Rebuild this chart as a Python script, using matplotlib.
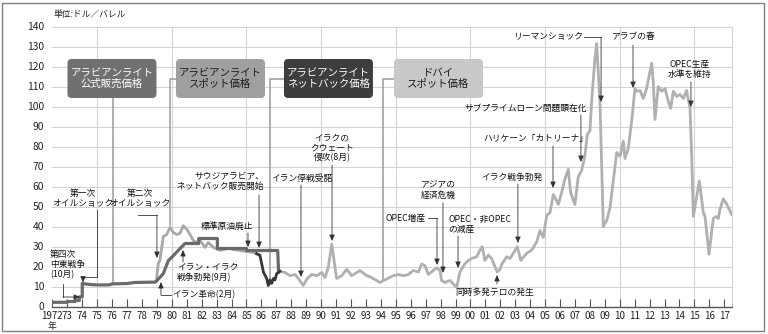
import matplotlib
matplotlib.use("Agg")
import matplotlib.pyplot as plt
from matplotlib.patches import FancyBboxPatch, Rectangle
from matplotlib.transforms import blended_transform_factory

plt.rcParams['font.family'] = ['Noto Sans CJK JP', 'DejaVu Sans']
NUM_FONT = ['Liberation Sans Narrow', 'Noto Sans CJK JP']

# --- data (ドル/バレル) ---
official_year = [1972.0, 1973.0, 1973.0, 1973.5, 1973.5, 1973.8, 1973.8, 1974.0, 1974.0, 1974.5,
                 1975.0, 1975.8, 1976.0, 1977.0, 1977.5, 1978.9, 1979.0, 1979.2, 1979.43, 1979.77,
                 1980.1, 1980.55, 1980.88, 1981.8, 1981.8, 1983.05, 1983.05, 1985.0, 1985.0,
                 1987.09, 1987.15]
official_price = [2.1, 2.1, 2.5, 2.5, 3.0, 3.0, 4.8, 4.8, 11.5, 11.0,
                  10.8, 10.8, 11.3, 11.5, 12.0, 12.2, 13.0, 14.5, 16.5, 23.0,
                  25.4, 29.0, 31.5, 31.5, 34.0, 34.0, 29.0, 29.0, 28.0,
                  28.0, 17.2]

spot_year = [1978.98, 1979.09, 1979.2, 1979.32, 1979.43, 1979.65, 1979.88, 1980.1, 1980.33,
             1980.55, 1980.77, 1980.99, 1981.22, 1981.44, 1981.66, 1981.89, 1982.22, 1982.44,
             1982.78, 1983.23, 1983.6, 1983.9, 1984.2, 1984.57, 1985.0, 1985.46, 1985.79]
spot_price = [14.0, 21.4, 23.0, 29.5, 35.0, 36.0, 39.5, 37.0, 36.0,
              36.6, 40.4, 38.7, 36.0, 33.0, 32.0, 33.0, 29.6, 32.0,
              29.6, 28.0, 28.8, 29.0, 28.3, 28.0, 27.5, 27.0, 26.0]

netback_year = [1985.68, 1985.9, 1986.02, 1986.13, 1986.35, 1986.46, 1986.57, 1986.69,
                1986.8, 1986.91, 1987.02, 1987.24]
netback_price = [26.4, 25.6, 21.4, 17.3, 14.0, 10.5, 13.3, 11.6,
                 14.0, 13.3, 16.4, 17.6]

dubai_year = [1987.24, 1987.58, 1987.91, 1988.25, 1988.58, 1988.8, 1989.07, 1989.37, 1989.7,
              1990.04, 1990.26, 1990.48, 1990.71, 1990.93, 1991.04, 1991.38, 1991.71, 1992.05,
              1992.6, 1993.05, 1993.3, 1993.94, 1994.61, 1994.83, 1995.17, 1995.5, 1995.84,
              1996.17, 1996.51, 1996.73, 1996.96, 1997.18, 1997.51, 1997.74, 1997.96, 1998.07,
              1998.3, 1998.63, 1998.85, 1999.08, 1999.3, 1999.63, 1999.86, 2000.08, 2000.42,
              2000.64, 2000.79, 2000.97, 2001.2, 2001.42, 2001.64, 2001.8, 2001.98, 2002.09,
              2002.43, 2002.65, 2002.87, 2003.14, 2003.37, 2003.77, 2004.1, 2004.44, 2004.66,
              2004.8, 2004.88, 2005.11, 2005.33, 2005.55, 2005.73, 2005.89, 2006.11, 2006.33,
              2006.55, 2006.71, 2007.0, 2007.22, 2007.45, 2007.67, 2007.83, 2008.01, 2008.12,
              2008.34, 2008.46, 2008.68, 2008.9, 2009.13, 2009.35, 2009.57, 2009.68, 2009.8,
              2010.02, 2010.24, 2010.35, 2010.57, 2010.8, 2011.02, 2011.13, 2011.36, 2011.58,
              2011.8, 2012.14, 2012.25, 2012.36, 2012.58, 2012.81, 2013.03, 2013.25, 2013.41,
              2013.59, 2013.81, 2014.04, 2014.26, 2014.48, 2014.71, 2014.82, 2014.93, 2015.33,
              2015.6, 2015.71, 2015.98, 2016.27, 2016.45, 2016.6, 2016.72, 2016.94, 2017.16,
              2017.5]
dubai_price = [17.6, 17.0, 15.4, 16.0, 13.0, 10.5, 14.0, 16.0, 15.4,
               17.0, 14.5, 19.6, 31.2, 19.6, 14.0, 15.4, 18.6, 15.4,
               18.0, 15.4, 14.8, 12.0, 14.6, 15.4, 16.0, 15.4, 16.0,
               18.0, 17.3, 21.3, 20.4, 16.0, 18.0, 19.4, 18.0, 13.0,
               12.0, 13.0, 11.3, 9.6, 17.3, 21.4, 23.0, 24.0, 24.9,
               28.2, 29.9, 23.0, 25.7, 24.0, 19.9, 17.3, 18.5, 21.0,
               24.9, 24.0, 26.6, 29.9, 23.0, 26.6, 28.2, 32.4, 38.0,
               35.5, 34.5, 45.5, 47.0, 56.0, 53.5, 51.0, 57.0, 63.8,
               68.6, 57.0, 51.0, 64.8, 68.0, 75.5, 86.0, 88.0, 103.0,
               124.0, 131.5, 101.0, 40.0, 43.0, 49.5, 63.0, 69.7, 77.0,
               75.0, 82.7, 74.0, 79.0, 92.7, 109.0, 107.6, 108.0, 104.0,
               109.0, 121.7, 112.0, 93.5, 110.0, 107.6, 109.0, 102.6, 99.0,
               107.6, 105.0, 106.0, 104.0, 108.0, 99.0, 75.0, 45.0, 62.8,
               47.0, 45.0, 26.2, 44.0, 45.0, 44.0, 48.7, 53.8, 51.3,
               46.0]

year_ticks = list(range(1972, 2018))
year_labels = ['1972', '73', '74', '75', '76', '77', '78', '79', '80', '81', '82', '83',
               '84', '85', '86', '87', '88', '89', '90', '91', '92', '93', '94', '95', '96',
               '97', '98', '99', '00', '01', '02', '03', '04', '05', '06', '07', '08', '09',
               '10', '11', '12', '13', '14', '15', '16', '17']
price_ticks = [0, 10, 20, 30, 40, 50, 60, 70, 80, 90, 100, 110, 120, 130, 140]

# 凡例ボックス: (テキスト, 中心年, 塗り, 文字色)
boxes = [("アラビアンライト\n公式販売価格", 1975.99, '#707070', 'white'),
         ("アラビアンライト\nスポット価格", 1983.26, '#a0a0a0', '#1a1a1a'),
         ("アラビアンライト\nネットバック価格", 1990.49, '#3d3d3d', 'white'),
         ("ドバイ\nスポット価格", 1997.86, '#c8c8c8', '#1a1a1a')]

fig = plt.figure(figsize=(7.68, 3.34), dpi=100)
ax = fig.add_axes([52.4 / 768, 27.5 / 334, 679.9 / 768, 280 / 334])
ax.set_xlim(1972, 2017.54)
ax.set_ylim(0, 140)

# grid
for v in price_ticks[1:]:
    ax.axhline(v, color='#d4d4d4', lw=0.8, zorder=0)
for yr in range(1975, 2017, 5):
    ax.axvline(yr, color='#d4d4d4', lw=0.8, zorder=0)

ax.plot(dubai_year, dubai_price, color='#b0b0b0', lw=2.0, zorder=3, solid_joinstyle='round')
ax.plot(spot_year, spot_price, color='#a8a8a8', lw=2.0, zorder=3, solid_joinstyle='round')
ax.plot(official_year, official_price, color='#6a6a6a', lw=2.3, zorder=4)
ax.plot(netback_year, netback_price, color='#363636', lw=2.0, zorder=5, solid_joinstyle='round')

for s in ['top', 'left']:
    ax.spines[s].set_visible(False)
ax.spines['right'].set_color('#d4d4d4')
ax.spines['right'].set_linewidth(0.8)
ax.spines['bottom'].set_color('#555555')
ax.spines['bottom'].set_linewidth(1.0)

ax.set_xticks(year_ticks)
ax.set_xticklabels(year_labels, fontsize=7.0, color='#222222', family=NUM_FONT)
ax.tick_params(axis='x', direction='in', length=6, width=0.8, color='#555555', pad=3.5)
ax.set_yticks(price_ticks)
ax.set_yticklabels([str(v) for v in price_ticks], fontsize=7.4, color='#222222', family=NUM_FONT)
ax.tick_params(axis='y', length=0, pad=6)

trans = blended_transform_factory(ax.transData, ax.transAxes)
ax.text(1972, -0.07, "年", transform=trans, ha='center', va='center', fontsize=6.3, color='#222222')
fig.text(53 / 768, 1 - 15 / 334, "単位:ドル／バレル", fontsize=6.3, color='#222222', va='center')

# boxes
for label, cx, fc, tc in boxes:
    box = FancyBboxPatch((cx - 2.98, 104.25), 5.96, 19.5,
                         boxstyle="round,pad=0,rounding_size=0.28",
                         mutation_aspect=7.47, fc=fc, ec='none', zorder=6)
    ax.add_patch(box)
    ax.text(cx, 114.0, label, ha='center', va='center', fontsize=7.5, color=tc,
            linespacing=1.15, zorder=7)

# box leaders
box_leaders = [[(1976.06, 104.25), (1976.06, 12.25)],
               [(1980.28, 113.75), (1979.88, 113.75), (1979.88, 40.75)],
               [(1987.51, 113.75), (1986.58, 113.75), (1986.58, 10.75)],
               [(1994.88, 113.75), (1994.14, 113.75), (1994.14, 13.5)]]
for pts in box_leaders:
    ax.plot([p[0] for p in pts], [p[1] for p in pts], color='#9a9a9a', lw=1.1, zorder=2)


def leader(pts):
    # 折れ線 + 最後の区間に矢印
    if len(pts) > 2:
        ax.plot([p[0] for p in pts[:-1]], [p[1] for p in pts[:-1]], color='#333333',
                lw=0.6, zorder=6, clip_on=False)
    ax.annotate("", xy=pts[-1], xytext=pts[-2],
                arrowprops=dict(arrowstyle='-|>,head_length=0.45,head_width=0.2',
                                color='#333333', lw=0.6, shrinkA=0, shrinkB=0,
                                mutation_scale=8), zorder=6)


def note(x, y, s, ha='center'):
    ax.text(x, y, s, ha=ha, va='center', fontsize=6.3, color='#111111',
            linespacing=1.15, zorder=7)


note(1971.84, 20.75, "第四次\n中東戦争\n(10月)", ha='left')
leader([(1972.71, 11.25), (1972.71, 4.75), (1973.85, 4.75)])

note(1974.05, 54.0, "第一次\nオイルショック")
leader([(1974.99, 48.25), (1974.99, 14.75), (1974.05, 14.75), (1974.05, 12.0)])

note(1977.87, 54.0, "第二次\nオイルショック")
leader([(1977.73, 45.75), (1979.0, 45.75), (1979.0, 24.25)])

note(1983.69, 40.25, "標準原油廃止")
leader([(1985.1, 36.75), (1985.1, 29.75)])

note(1986.17, 62.5, "サウジアラビア、\nネットバック販売開始", ha='right')
leader([(1985.84, 55.75), (1985.84, 29.25)])

note(1980.35, 17.0, "イラン・イラク\n戦争勃発(9月)", ha='left')
leader([(1980.75, 22.25), (1980.75, 28.25)])

note(1980.01, 5.75, "イラン革命(2月)", ha='left')
leader([(1979.95, 5.75), (1979.27, 5.75), (1979.27, 12.25)])

note(1988.68, 64.25, "イラン停戦受諾")
leader([(1988.65, 60.75), (1988.65, 14.75)])

note(1990.73, 79.25, "イラクの\nクウェート\n侵攻(8月)")
leader([(1990.73, 70.75), (1990.73, 32.75)])

note(1997.02, 44.25, "OPEC増産", ha='right')
leader([(1997.15, 44.25), (1997.76, 44.25), (1997.76, 20.75)])

note(1997.83, 58.25, "アジアの\n経済危機")
leader([(1998.16, 51.75), (1998.16, 16.75)])

note(1998.5, 41.25, "OPEC・非OPEC\nの減産", ha='left')
leader([(1999.17, 35.25), (1999.17, 19.25)])

note(1998.97, 7.25, "同時多発テロの発生", ha='left')
leader([(2001.78, 11.25), (2001.78, 15.75)])

note(2002.78, 64.75, "イラク戦争勃発")
leader([(2003.18, 61.25), (2003.18, 31.75)])

note(2004.39, 83.75, "ハリケーン「カトリーナ」")
leader([(2005.53, 80.25), (2005.53, 59.25)])

note(2003.69, 99.25, "サブプライムローン問題顕在化")
leader([(2007.4, 95.75), (2007.4, 72.25)])

note(2007.54, 134.75, "リーマンショック", ha='right')
leader([(2007.6, 134.75), (2008.75, 134.75), (2008.75, 102.25)])

note(2010.92, 134.75, "アラブの春")
leader([(2010.89, 130.75), (2010.89, 109.25)])

note(2014.7, 118.75, "OPEC生産\n水準を維持")
leader([(2014.77, 112.25), (2014.77, 99.75)])

# 外枠
fig.patches.append(Rectangle((2 / 768, 3 / 334), 762 / 768, 328 / 334, transform=fig.transFigure,
                             fill=False, ec='#808080', lw=1.0))

fig.savefig("out.png", dpi=100)
